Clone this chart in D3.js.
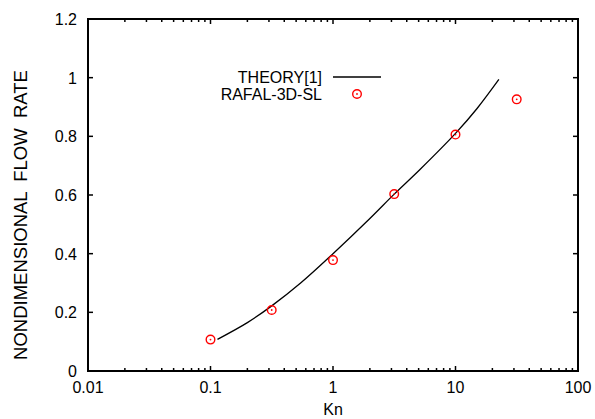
<!DOCTYPE html>
<html>
<head>
<meta charset="utf-8">
<script src="https://cdn.jsdelivr.net/npm/d3@7"></script>
<style>
  body { margin: 0; background: #fff; }
  text { font-family: "Liberation Sans", Arial, sans-serif; fill: #000; }
</style>
</head>
<body>
<div id="chart"></div>
<script>
// theory curve
const theoryKn = [0.114, 0.2, 0.316, 0.544, 1, 2, 3.16, 5.13, 10, 15, 22.6];
const theoryQ = [0.108, 0.165, 0.222, 0.30, 0.40, 0.52, 0.603, 0.687, 0.81, 0.895, 0.994];

// simulation points
const simKn = [0.1, 0.316, 1, 3.16, 10, 31.6];
const simQ = [0.107, 0.208, 0.378, 0.603, 0.806, 0.926];

const xTicks = [0.01, 0.1, 1, 10, 100];
const xTickLabels = ["0.01", "0.1", "1", "10", "100"];
const yTicks = [0, 0.2, 0.4, 0.6, 0.8, 1, 1.2];
const yTickLabels = ["0", "0.2", "0.4", "0.6", "0.8", "1", "1.2"];

const legendNames = ["THEORY[1]", "RAFAL-3D-SL"];

const width = 595, height = 419;
const margin = {top: 19, right: 17, bottom: 48, left: 88};

const svg = d3.select("#chart").append("svg")
    .attr("width", width)
    .attr("height", height);

const x = d3.scaleLog().domain([0.01, 100]).range([margin.left, width - margin.right]);
const y = d3.scaleLinear().domain([0, 1.2]).range([height - margin.bottom, margin.top]);

// minor ticks for log axis
const minorTicks = [];
for (let e = -2; e < 2; e++) {
    for (let m = 2; m <= 9; m++) minorTicks.push(m * Math.pow(10, e));
}

const x0 = x.range()[0], x1 = x.range()[1];
const y0 = y.range()[0], y1 = y.range()[1];

const ticks = svg.append("g").attr("stroke", "#000").attr("stroke-width", 1.5);

// bottom and top ticks
xTicks.forEach(v => {
    ticks.append("line").attr("x1", x(v)).attr("x2", x(v)).attr("y1", y0).attr("y2", y0 - 5);
    ticks.append("line").attr("x1", x(v)).attr("x2", x(v)).attr("y1", y1).attr("y2", y1 + 5);
});
minorTicks.forEach(v => {
    ticks.append("line").attr("x1", x(v)).attr("x2", x(v)).attr("y1", y0).attr("y2", y0 - 3);
    ticks.append("line").attr("x1", x(v)).attr("x2", x(v)).attr("y1", y1).attr("y2", y1 + 3);
});
// left and right ticks
yTicks.forEach(v => {
    ticks.append("line").attr("x1", x0).attr("x2", x0 + 5).attr("y1", y(v)).attr("y2", y(v));
    ticks.append("line").attr("x1", x1).attr("x2", x1 - 5).attr("y1", y(v)).attr("y2", y(v));
});

// frame
svg.append("rect")
    .attr("x", x0).attr("y", y1)
    .attr("width", x1 - x0).attr("height", y0 - y1)
    .attr("fill", "none")
    .attr("stroke", "#000")
    .attr("stroke-width", 2);

// tick labels
svg.selectAll(".xlab")
    .data(xTicks)
    .join("text")
    .attr("x", d => x(d))
    .attr("y", y0 + 22)
    .attr("text-anchor", "middle")
    .attr("font-size", 16)
    .text((d, i) => xTickLabels[i]);

svg.selectAll(".ylab")
    .data(yTicks)
    .join("text")
    .attr("x", x0 - 11)
    .attr("y", d => y(d) + 6)
    .attr("text-anchor", "end")
    .attr("font-size", 16)
    .text((d, i) => yTickLabels[i]);

// axis titles
svg.append("text")
    .attr("x", x(1))
    .attr("y", 415)
    .attr("text-anchor", "middle")
    .attr("font-size", 16)
    .text("Kn");

svg.append("text")
    .attr("transform", "translate(27,215) rotate(-90)")
    .attr("text-anchor", "middle")
    .attr("font-size", 18.5)
    .attr("xml:space", "preserve")
    .text("NONDIMENSIONAL  FLOW  RATE");

// theory line
const theory = theoryKn.map((k, i) => ({k: k, q: theoryQ[i]}));
svg.append("path")
    .datum(theory)
    .attr("fill", "none")
    .attr("stroke", "#000")
    .attr("stroke-width", 1.3)
    .attr("d", d3.line().x(d => x(d.k)).y(d => y(d.q)).curve(d3.curveCatmullRom.alpha(0.5)));

// simulation points
const sim = simKn.map((k, i) => ({k: k, q: simQ[i]}));
function marker(g) {
    g.append("circle").attr("r", 4.3).attr("fill", "none").attr("stroke", "#f00").attr("stroke-width", 1.4);
    g.append("circle").attr("r", 0.9).attr("fill", "#f00");
}
svg.selectAll(".pt")
    .data(sim)
    .join("g")
    .attr("transform", d => `translate(${x(d.k)},${y(d.q)})`)
    .call(marker);

// legend
const lg = svg.append("g");
lg.append("text").attr("x", 322).attr("y", 83).attr("text-anchor", "end").attr("font-size", 16).text(legendNames[0]);
lg.append("line").attr("x1", 333).attr("x2", 381).attr("y1", 77).attr("y2", 77).attr("stroke", "#000").attr("stroke-width", 1.3);
lg.append("text").attr("x", 322).attr("y", 100).attr("text-anchor", "end").attr("font-size", 16).text(legendNames[1]);
lg.append("g").attr("transform", "translate(357,94)").call(marker);
</script>
</body>
</html>
